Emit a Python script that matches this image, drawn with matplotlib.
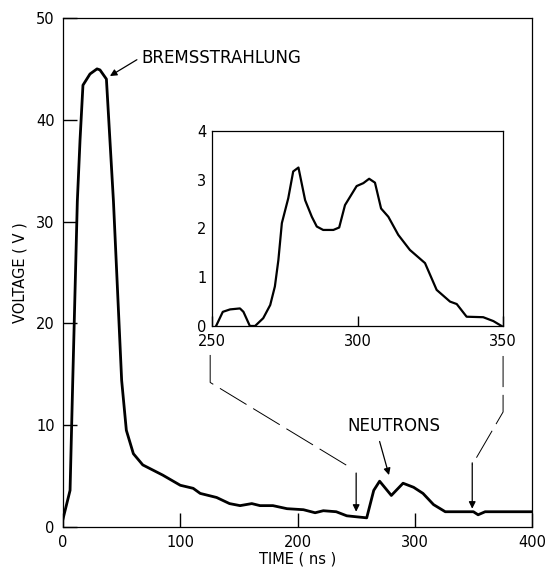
import matplotlib
matplotlib.use("Agg")
import matplotlib.pyplot as plt

# main trace (time in ns, voltage in V)
time_ns = [0, 6, 8.3, 12.2, 14.5, 17, 23, 29, 31.5, 37, 43, 50, 54, 60, 68,
           85, 100, 111, 117, 131, 142, 151, 161, 168, 179, 191, 205, 215,
           222, 233, 242, 259, 265, 270, 280, 290, 299, 307, 316, 326, 350,
           354, 360, 400]
voltage = [0.8, 3.6, 14.4, 32, 38, 43.4, 44.5, 45, 44.9, 44, 32, 14.4, 9.5,
           7.2, 6.1, 5.1, 4.1, 3.8, 3.3, 2.9, 2.3, 2.1, 2.3, 2.1, 2.1, 1.8,
           1.7, 1.4, 1.6, 1.5, 1.1, 0.9, 3.6, 4.5, 3.1, 4.3, 3.9, 3.3, 2.2,
           1.5, 1.5, 1.2, 1.5, 1.5]

# inset trace (250-350 ns)
inset_time = [251.4, 253.7, 256.2, 259.6, 260.8, 263, 264.8, 267.6, 270,
              271.6, 272.8, 274, 276.2, 277.9, 279.7, 282, 284.3, 286, 288.2,
              291.7, 293.7, 295.7, 299.7, 302, 304, 306, 308.1, 310.6, 314,
              318, 323.2, 327.2, 331.8, 334.1, 337.5, 343.2, 346.7, 349.5]
inset_volt = [0, 0.29, 0.34, 0.36, 0.29, 0, 0, 0.16, 0.43, 0.81, 1.35, 2.11,
              2.62, 3.17, 3.25, 2.58, 2.24, 2.04, 1.97, 1.97, 2.02, 2.48,
              2.87, 2.93, 3.02, 2.94, 2.41, 2.24, 1.87, 1.56, 1.29, 0.74,
              0.50, 0.45, 0.19, 0.18, 0.10, 0]

main_xticks = [0, 100, 200, 300, 400]
main_yticks = [0, 10, 20, 30, 40, 50]
inset_xticks = [250, 300, 350]
inset_yticks = [0, 1, 2, 3, 4]

plt.rcParams['font.family'] = ['DejaVu Sans']
plt.rcParams['axes.linewidth'] = 0.9

fig = plt.figure(figsize=(5.49, 5.69), dpi=100)
ax = fig.add_axes([0.1148, 0.0738, 0.8543, 0.8946])
ax.plot(time_ns, voltage, color='black', lw=2.0, solid_joinstyle='round')
ax.set_xlim(0, 400)
ax.set_ylim(0, 50)
ax.set_xticks(main_xticks)
ax.set_yticks(main_yticks)
ax.tick_params(direction='in', length=10, width=1, labelsize=10.5, pad=6)
ax.set_xlabel('TIME ( ns )', fontsize=10.5, labelpad=1)
ax.set_ylabel('VOLTAGE ( V )', fontsize=10.5, labelpad=6)

arrow = dict(arrowstyle='-|>', color='black', lw=0.9,
             mutation_scale=10, shrinkA=0, shrinkB=0)
ax.text(66.5, 46.1, 'BREMSSTRAHLUNG', fontsize=12, va='center', ha='left')
ax.annotate('', xy=(40, 44.3), xytext=(63, 45.9), arrowprops=arrow)
ax.text(282, 9.0, 'NEUTRONS', fontsize=12, va='bottom', ha='center')
ax.annotate('', xy=(278, 5.1), xytext=(270, 8.4), arrowprops=arrow)
ax.annotate('', xy=(250, 1.5), xytext=(250, 5.3), arrowprops=arrow)
ax.annotate('', xy=(349, 1.8), xytext=(349, 6.3), arrowprops=arrow)

# dashed connectors from the inset to the zoomed region
ax.plot([125.5, 125.5, 247], [16.9, 14.2, 5.7], color='black', lw=0.7,
        dashes=(32, 8))
ax.plot([375.3, 375.3, 349], [16.8, 11.3, 6.1], color='black', lw=0.7,
        dashes=(32, 8))

ins = fig.add_axes([0.3862, 0.4271, 0.530, 0.3427])
ins.plot(inset_time, inset_volt, color='black', lw=1.6,
         solid_joinstyle='round')
ins.set_xlim(250, 350)
ins.set_ylim(0, 4)
ins.set_xticks(inset_xticks)
ins.set_yticks(inset_yticks)
ins.tick_params(axis='x', direction='in', length=7, width=1,
                labelsize=10.5, pad=6)
ins.tick_params(axis='y', length=0, labelsize=10.5, pad=4)

fig.savefig('out.png', dpi=100)
